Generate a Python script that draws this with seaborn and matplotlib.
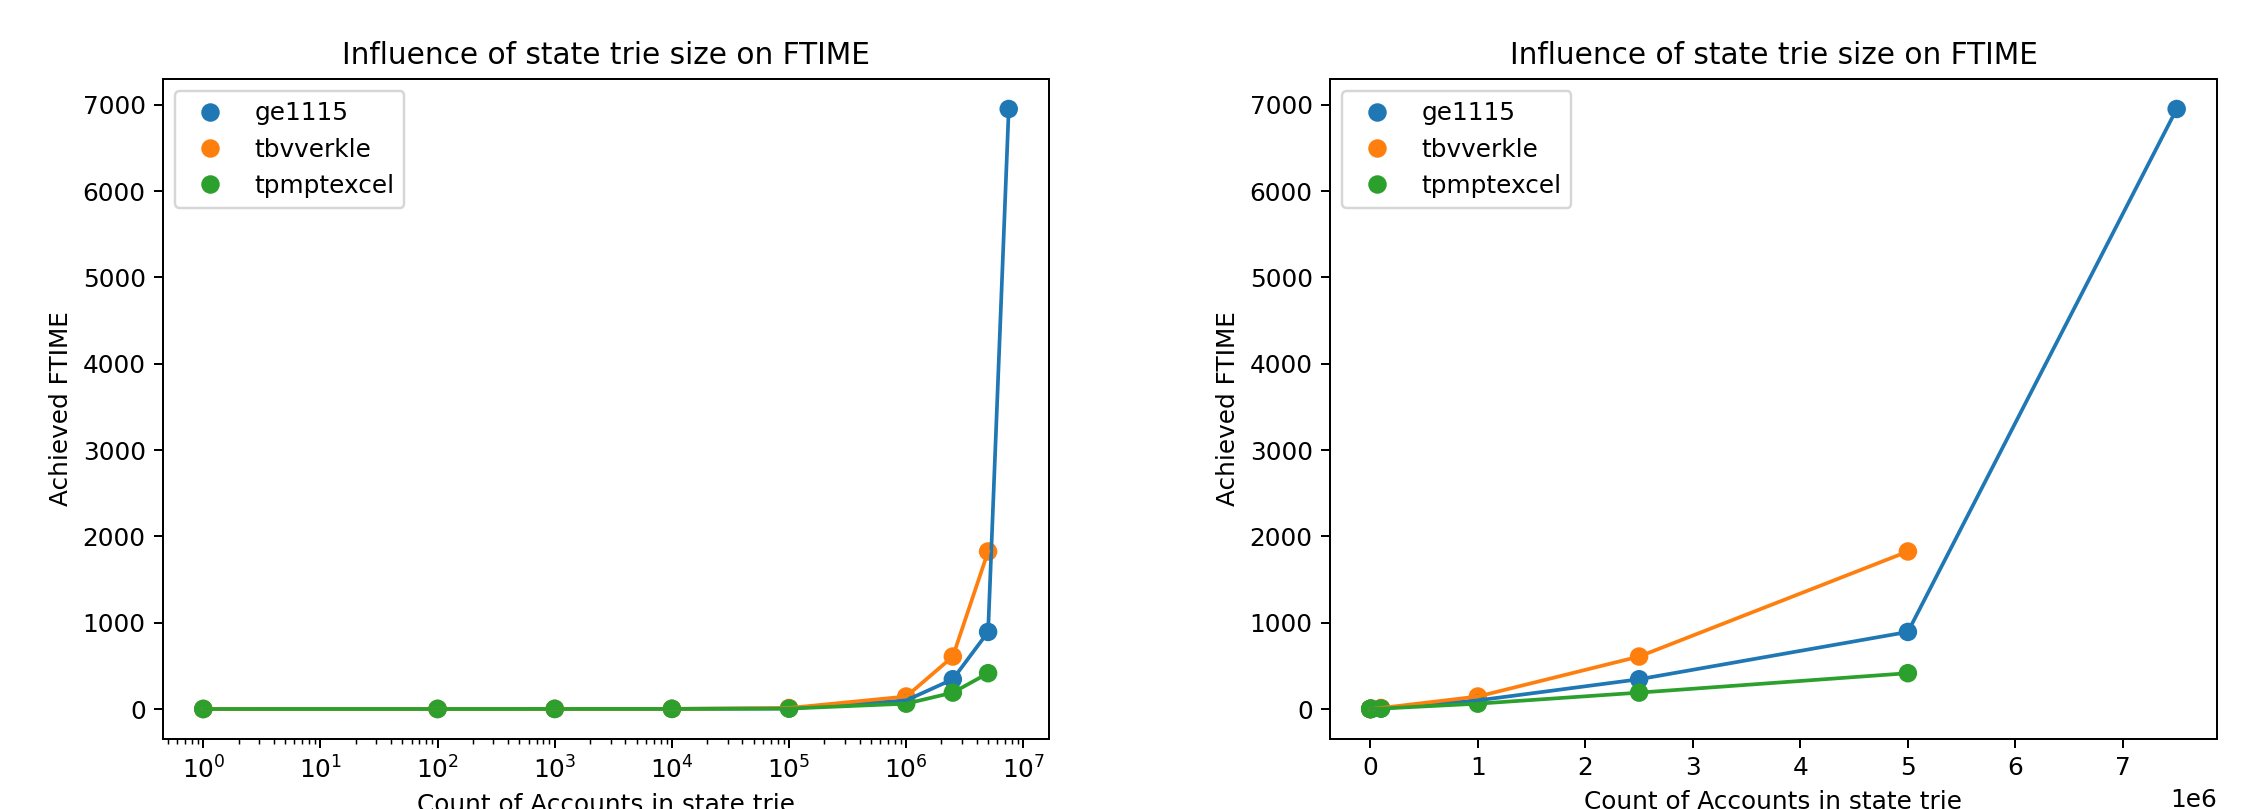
import pandas as pd
import seaborn as sns
import matplotlib.pyplot as plt

### data
accounts = [1, 100, 1000, 10000, 100000, 1000000, 2500000, 5000000, 7500000]
ge1115 = [0.5, 1, 1.5, 2, 6, 100, 345, 893, 6950]
tbvverkle = [0.5, 1, 1.5, 2, 12, 145, 608, 1825]
tpmptexcel = [0.3, 0.5, 1, 1.5, 5, 62, 190, 415]

rows = []
for name, vals in [("ge1115", ge1115), ("tbvverkle", tbvverkle), ("tpmptexcel", tpmptexcel)]:
    for x, y in zip(accounts, vals):
        rows.append({"accounts": x, "ftime": y, "client": name})
df = pd.DataFrame(rows)

dpi = 178
fig = plt.figure(figsize=(2245 / dpi, 809 / dpi), dpi=dpi)
ax1 = fig.add_axes([163 / 2245, 1 - 739 / 809, 886 / 2245, 660 / 809])
ax2 = fig.add_axes([1330 / 2245, 1 - 739 / 809, 887 / 2245, 660 / 809])

for ax in (ax1, ax2):
    sns.lineplot(data=df, x="accounts", y="ftime", hue="client", ax=ax, legend=False)
    sns.scatterplot(data=df, x="accounts", y="ftime", hue="client", ax=ax,
                    s=56, linewidth=0)
    ax.set_title("Influence of state trie size on FTIME")
    ax.set_xlabel("Count of Accounts in state trie")
    ax.set_ylabel("Achieved FTIME")
    ax.legend(loc="upper left")

ax1.set_xscale("log")

fig.savefig("out.png", dpi=dpi)
